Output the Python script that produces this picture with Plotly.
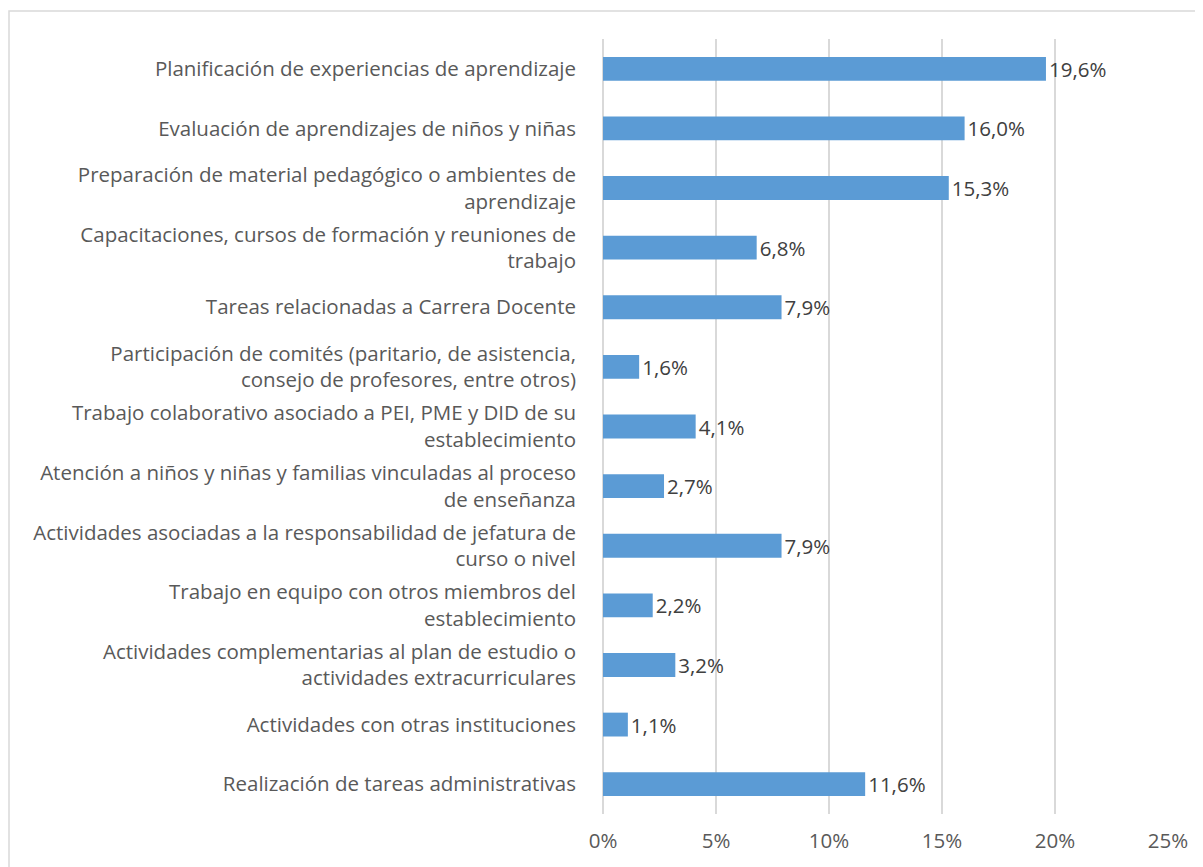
import plotly.graph_objects as go

categorias = [
    "Planificación de experiencias de aprendizaje",
    "Evaluación de aprendizajes de niños y niñas",
    "Preparación de material pedagógico o ambientes de<br>aprendizaje",
    "Capacitaciones, cursos de formación y reuniones de<br>trabajo",
    "Tareas relacionadas a Carrera Docente",
    "Participación de comités (paritario, de asistencia,<br>consejo de profesores, entre otros)",
    "Trabajo colaborativo asociado a PEI, PME y DID de su<br>establecimiento",
    "Atención a niños y niñas y familias vinculadas al proceso<br>de enseñanza",
    "Actividades asociadas a la responsabilidad de jefatura de<br>curso o nivel",
    "Trabajo en equipo con otros miembros del<br>establecimiento",
    "Actividades complementarias al plan de estudio o<br>actividades extracurriculares",
    "Actividades con otras instituciones",
    "Realización de tareas administrativas",
]
porcentajes = [19.6, 16.0, 15.3, 6.8, 7.9, 1.6, 4.1, 2.7, 7.9, 2.2, 3.2, 1.1, 11.6]
ticks_x = [0, 5, 10, 15, 20, 25]

AZUL = "#5b9bd5"
TINTA = "#595959"
REJILLA = "#d9d9d9"
FUENTE = "Open Sans, Lato, sans-serif"
TAM = 20.5

# la página añade 8 px de margen al cuerpo: se descuentan aquí
W, H = 1203, 867
L, R, T, B = 595, 43, 31, 61

fig = go.Figure(go.Bar(
    x=porcentajes, y=categorias, orientation="h",
    marker=dict(color=AZUL, line=dict(width=0)),
    width=0.4,
    text=[f"{v:.1f}%".replace(".", ",") for v in porcentajes],
    textposition="outside", cliponaxis=False, constraintext="none",
    textfont=dict(color="#404040", size=TAM, family=FUENTE),
))

pw, ph = W - L - R, H - T - B
fig.update_layout(
    template="none",
    width=W, height=H,
    paper_bgcolor="white", plot_bgcolor="white",
    margin=dict(l=L, r=R, t=T, b=B, autoexpand=False),
    font=dict(family=FUENTE, color=TINTA, size=TAM),
    showlegend=False,
    # marco del gráfico (estilo Excel)
    shapes=[dict(type="rect", xref="paper", yref="paper", layer="below",
                 x0=(1 - L) / pw, x1=(1193 - L) / pw,
                 y0=-(H - T) / ph - 0.05, y1=1 + (T - 3) / ph,
                 line=dict(color="#d9d9d9", width=1.5))],
)
fig.update_xaxes(range=[0, 25], tickvals=ticks_x, ticktext=[f"{t}%" for t in ticks_x],
                 showgrid=True, gridcolor=REJILLA, gridwidth=1.5,
                 zeroline=True, zerolinecolor=REJILLA, zerolinewidth=1.5,
                 showline=False, ticks="", tickfont=dict(size=TAM, color=TINTA),
                 ticklabelstandoff=12)
fig.update_yaxes(categoryorder="array", categoryarray=categorias, autorange="reversed",
                 showgrid=False, zeroline=False, showline=False, ticks="",
                 tickfont=dict(size=TAM, color=TINTA), ticklabelstandoff=26)

fig.write_html("out.html")
